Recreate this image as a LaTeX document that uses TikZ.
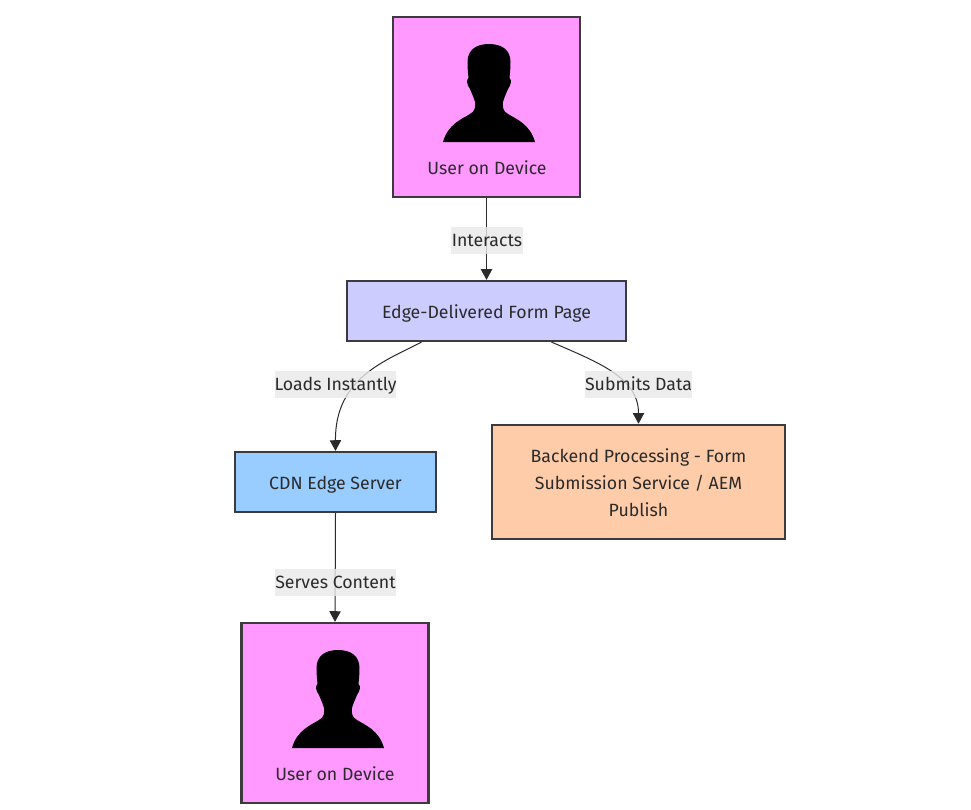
\documentclass[tikz,border=0pt]{standalone}
\usepackage{fontspec}
\setmainfont{Fira Sans}
\usetikzlibrary{arrows.meta,calc}
\definecolor{ink}{HTML}{2B2B2B}
\definecolor{boxline}{HTML}{3C3A3C}
\definecolor{pinkf}{HTML}{FF99FF}
\definecolor{lilacf}{HTML}{CCCCFF}
\definecolor{bluef}{HTML}{99CCFF}
\definecolor{orangef}{HTML}{FFCCAA}
\definecolor{labelf}{HTML}{E8E8E8}
\tikzset{
  x=0.75pt,y=-0.75pt,
  every node/.style={font=\fontsize{13.3}{20.25}\selectfont,text=ink,inner sep=0pt},
  flowbox/.style={draw=boxline,line width=1.9pt,rectangle},
  oneline/.style={text height=10.5pt,text depth=0.5pt},
  boxline1/.style={text height=11.25pt,text depth=0.25pt},
  edgeline/.style={draw=ink,line width=0.75pt,-{Triangle[length=8pt,width=8.5pt]}},
  edgelabel/.style={oneline,fill=labelf,fill opacity=0.8,text opacity=1,minimum height=20.25pt,anchor=center},
  person/.pic={
    \fill[black] (0,0)
      .. controls (13,0) and (21.5,6) .. (21.5,18)
      .. controls (21.5,24) and (21,29) .. (20.5,34)
      .. controls (23,36) and (22,41) .. (19,45)
      .. controls (17,50) and (15,54) .. (14,58)
      .. controls (13.5,64) and (14,67) .. (19,70)
      .. controls (27,75) and (41,80) .. (46,98)
      -- (-46,98)
      .. controls (-41,80) and (-27,75) .. (-19,70)
      .. controls (-14,67) and (-13.5,64) .. (-14,58)
      .. controls (-15,54) and (-17,50) .. (-19,45)
      .. controls (-22,41) and (-23,36) .. (-20.5,34)
      .. controls (-21,29) and (-21.5,24) .. (-21.5,18)
      .. controls (-21.5,6) and (-13,0) .. (0,0) -- cycle;
  }
}
\begin{document}
\begin{tikzpicture}
\useasboundingbox (0,0) rectangle (971,810);
% boxes
\node[flowbox,fill=pinkf,minimum width=140pt,minimum height=134.75pt] (user1) at (486.5,107) {};
\pic at (489,44) {person};
\node[oneline] (user1t) at (487,168) {User on Device};
\node[flowbox,boxline1,fill=lilacf,minimum width=209pt,minimum height=44.75pt] (form) at (486.5,311) {Edge-Delivered Form Page};
\node[flowbox,boxline1,fill=bluef,minimum width=150.5pt,minimum height=44.75pt] (cdn) at (335.5,482) {CDN Edge Server};
\node[flowbox,fill=orangef,minimum width=219.5pt,minimum height=85.5pt] (backend) at (638.5,482) {};
\node[align=center] (backendt) at (638.5,483) {Backend Processing - Form\\Submission Service / AEM\\Publish};
\node[flowbox,fill=pinkf,minimum width=140pt,minimum height=134.75pt] (user2) at (335,713) {};
\pic at (338,650) {person};
\node[oneline] (user2t) at (335,774) {User on Device};
% connector ends on the lower edge of the form box
\coordinate (formL) at ($(form.south)+(-65,0)$);
\coordinate (formR) at ($(form.south)+(65,0)$);
% connectors
\draw[edgeline] (user1.south) -- (form.north);
\draw[edgeline] (formL) .. controls (385,361) and (335,378) .. (cdn.north);
\draw[edgeline] (formR) .. controls (600,363) and (638.5,378) .. (backend.north);
\draw[edgeline] (cdn.south) -- (user2.north);
% labels
\node[edgelabel,minimum width=54pt] (l1) at (487,240) {Interacts};
\node[edgelabel,minimum width=90.75pt] (l2) at (335.5,384) {Loads Instantly};
\node[edgelabel,minimum width=78.75pt] (l3) at (638.5,384) {Submits Data};
\node[edgelabel,minimum width=90.75pt] (l4) at (335.5,582) {Serves Content};
\end{tikzpicture}
\end{document}
